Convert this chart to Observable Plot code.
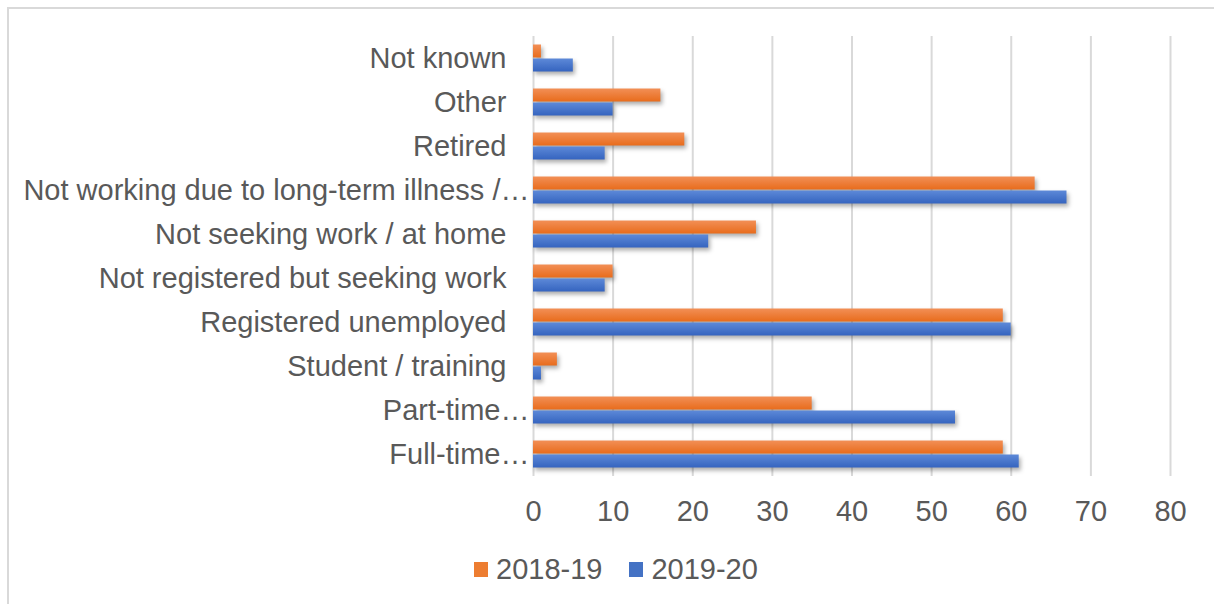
<!DOCTYPE html>
<html>
<head>
<meta charset="utf-8">
<script src="https://cdn.jsdelivr.net/npm/d3@7"></script>
<script src="https://cdn.jsdelivr.net/npm/@observablehq/plot@0.6"></script>
<style>
  html, body { margin: 0; padding: 0; background: #fff; overflow: hidden; }
  body { width: 1214px; height: 604px; position: relative; font-family: "Liberation Sans", Arial, sans-serif; }
  #frame { position: absolute; left: 7px; top: 7px; width: 1300px; height: 700px; border: 2px solid #d9d9d9; box-sizing: border-box; }
  #chart { position: absolute; left: 0; top: 0; }
  #chart svg g[aria-label="bar"] { filter: drop-shadow(2px 3px 2px rgba(0,0,0,0.32)); }
  #legend { position: absolute; left: 474px; top: 553px; display: flex; align-items: center; font-size: 29px; color: #595959; white-space: nowrap; }
  .sw { display: inline-block; width: 14px; height: 15px; margin-right: 8px; }
  .item { display: flex; align-items: center; margin-right: 27px; }
</style>
</head>
<body>
<div id="frame"></div>
<div id="chart"></div>
<div id="legend"></div>
<script>
const categories = [
  "Not known",
  "Other",
  "Retired",
  "Not working due to long-term illness /…",
  "Not seeking work / at home",
  "Not registered but seeking work",
  "Registered unemployed",
  "Student / training",
  "Part-time…",
  "Full-time…"
];
const seriesNames = ["2018-19", "2019-20"];
const values2018 = [1, 16, 19, 63, 28, 10, 59, 3, 35, 59];
const values2019 = [5, 10, 9, 67, 22, 9, 60, 1, 53, 61];
const xTicks = [0, 10, 20, 30, 40, 50, 60, 70, 80];
const seriesColors = ["#ED7D31", "#4472C4"];

const rows = [];
categories.forEach((c, i) => {
  rows.push({category: c, series: seriesNames[0], value: values2018[i]});
  rows.push({category: c, series: seriesNames[1], value: values2019[i]});
});

const svg = Plot.plot({
  width: 1214,
  height: 545,
  marginLeft: 533,
  marginRight: 44,
  marginTop: 34,
  marginBottom: 68,
  style: {fontSize: "29px", fontFamily: "'Liberation Sans', Arial, sans-serif", color: "#595959", background: "transparent"},
  x: {domain: [0, 80], ticks: xTicks, tickSize: 0, tickPadding: 24, label: null},
  y: {domain: seriesNames, axis: null, paddingInner: 0, paddingOuter: 0.477},
  fy: {domain: categories, axis: "left", label: null, tickSize: 0, tickPadding: 27, paddingInner: 0, paddingOuter: 0},
  color: {domain: seriesNames, range: ["url(#gradOrange)", "url(#gradBlue)"]},
  marks: [
    Plot.ruleX(xTicks, {x: d => d, stroke: "#d9d9d9", strokeWidth: 2}),
    Plot.barX(rows, {x: "value", y: "series", fy: "category", fill: "series", insetTop: 0.5, insetBottom: 0.5})
  ]
});

const defs = d3.select(svg).insert("defs", ":first-child");
const gO = defs.append("linearGradient").attr("id", "gradOrange").attr("x1", 0).attr("y1", 0).attr("x2", 0).attr("y2", 1);
gO.append("stop").attr("offset", "0%").attr("stop-color", "#F28F56");
gO.append("stop").attr("offset", "100%").attr("stop-color", "#E86C1C");
const gB = defs.append("linearGradient").attr("id", "gradBlue").attr("x1", 0).attr("y1", 0).attr("x2", 0).attr("y2", 1);
gB.append("stop").attr("offset", "0%").attr("stop-color", "#5D89D8");
gB.append("stop").attr("offset", "100%").attr("stop-color", "#3564BF");

// Truncated category labels (ending in an ellipsis) sit closer to the axis, as in the reference
d3.select(svg).selectAll("text").filter(function() { return this.textContent.endsWith("…"); }).attr("dx", 23);

document.getElementById("chart").appendChild(svg);

const legend = document.getElementById("legend");
seriesNames.forEach((s, i) => {
  const item = document.createElement("span");
  item.className = "item";
  const sw = document.createElement("span");
  sw.className = "sw";
  sw.style.background = seriesColors[i];
  item.appendChild(sw);
  item.appendChild(document.createTextNode(s));
  legend.appendChild(item);
});
</script>
</body>
</html>
